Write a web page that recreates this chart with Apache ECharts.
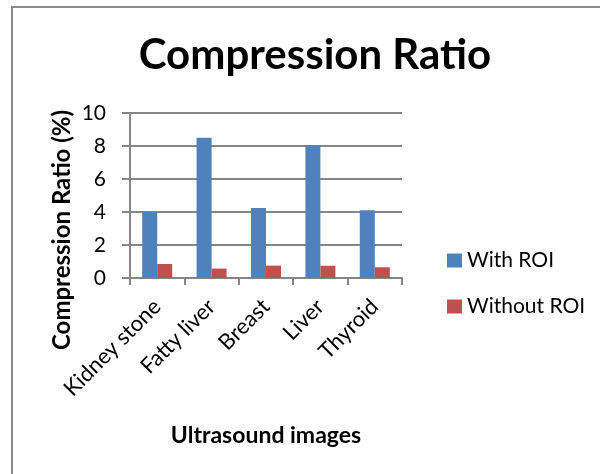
<!DOCTYPE html>
<html>
<head>
<meta charset="utf-8">
<script src="https://cdn.jsdelivr.net/npm/echarts@6/dist/echarts.min.js"></script>
<style>
  html, body { margin: 0; padding: 0; background: #fff; }
  #chart { width: 600px; height: 474px; }
</style>
</head>
<body>
<div id="chart"></div>
<script>
// Compression ratio per ultrasound image type
const categories = ['Kidney stone', 'Fatty liver', 'Breast', 'Liver', 'Thyroid'];
const withROI = [4.0, 8.5, 4.25, 8.05, 4.1];
const withoutROI = [0.85, 0.57, 0.75, 0.74, 0.65];
const seriesNames = ['With ROI', 'Without ROI'];
const yTicks = [0, 2, 4, 6, 8, 10];
const yTitle = 'Compression Ratio (%)';

const FONT = 'Lato, "Open Sans", sans-serif';
const chart = echarts.init(document.getElementById('chart'));

chart.setOption({
  animation: false,
  backgroundColor: '#ffffff',
  title: {
    text: 'Compression Ratio',
    left: 310,
    top: 29,
    textAlign: 'center',
    textStyle: { fontFamily: FONT, fontWeight: 'bold', fontSize: 42, color: '#000' }
  },
  legend: {
    orient: 'vertical',
    left: 442,
    top: 245,
    itemWidth: 15,
    itemHeight: 14,
    itemGap: 25,
    icon: 'rect',
    data: seriesNames,
    textStyle: { fontFamily: FONT, fontSize: 21, color: '#000' }
  },
  grid: { left: 130, right: 198, top: 113, bottom: 196 },
  xAxis: {
    type: 'category',
    data: categories,
    name: 'Ultrasound images',
    nameLocation: 'middle',
    nameGap: 146,
    nameTextStyle: { fontFamily: FONT, fontWeight: 'bold', fontSize: 23, color: '#000' },
    axisLine: { lineStyle: { color: '#868686', width: 2 } },
    axisTick: { show: true, length: 7, lineStyle: { color: '#868686', width: 2 } },
    axisLabel: {
      rotate: 45,
      margin: 25,
      fontFamily: FONT,
      fontSize: 22,
      color: '#000'
    }
  },
  yAxis: {
    type: 'value',
    min: 0,
    max: 10,
    interval: 2,
    axisLine: { show: true, lineStyle: { color: '#868686', width: 2 } },
    axisTick: { show: true, length: 8, lineStyle: { color: '#868686', width: 2 } },
    splitLine: { show: true, lineStyle: { color: '#868686', width: 2 } },
    axisLabel: {
      margin: 24,
      fontFamily: FONT,
      fontSize: 21,
      color: '#000',
      formatter: v => (yTicks.includes(v) ? String(v) : '')
    }
  },
  series: [
    {
      name: seriesNames[0],
      type: 'bar',
      data: withROI,
      barWidth: 15,
      barGap: '0%',
      itemStyle: { color: '#4F81BD' }
    },
    {
      name: seriesNames[1],
      type: 'bar',
      data: withoutROI,
      barWidth: 15,
      itemStyle: { color: '#C0504D' }
    }
  ],
  graphic: [
    {
      type: 'rect',
      shape: { x: 12, y: 7, width: 620, height: 500 },
      style: { fill: 'none', stroke: '#8c8c8c', lineWidth: 2 },
      silent: true
    },
    {
      // vertical value-axis title
      type: 'text',
      x: 62,
      y: 230,
      rotation: Math.PI / 2,
      style: {
        text: yTitle,
        fontFamily: FONT,
        fontWeight: 'bold',
        fontSize: 24,
        fill: '#000',
        textAlign: 'center',
        textVerticalAlign: 'middle'
      },
      silent: true
    }
  ]
});
</script>
</body>
</html>
